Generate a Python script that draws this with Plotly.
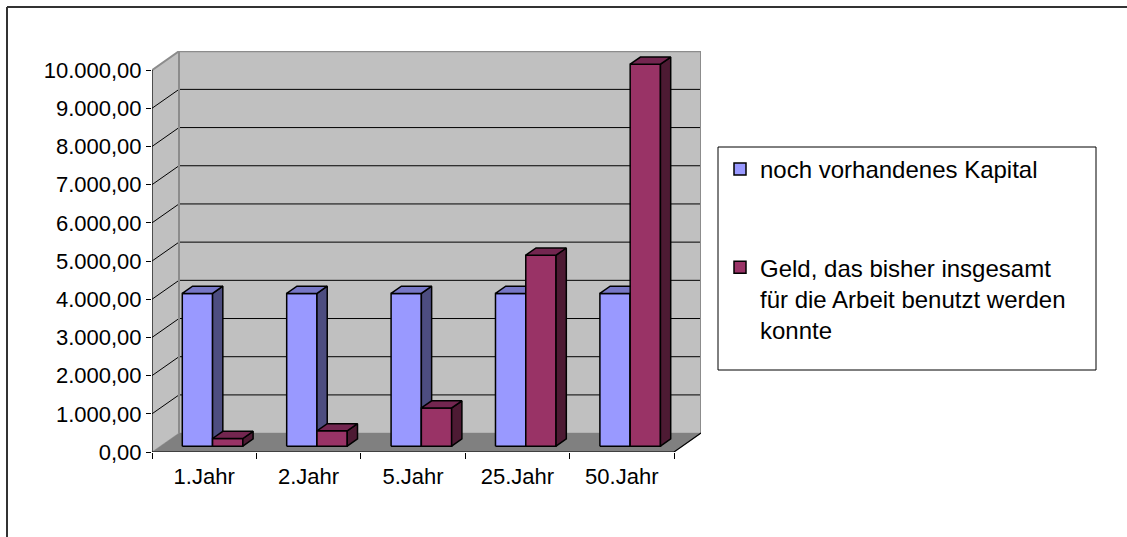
import plotly.graph_objects as go

# ---------------- data ----------------
categories = ["1.Jahr", "2.Jahr", "5.Jahr", "25.Jahr", "50.Jahr"]
kapital = [4000, 4000, 4000, 4000, 4000]
geld = [200, 400, 1000, 5000, 10000]
series_names = [
    "noch vorhandenes Kapital",
    "Geld, das bisher insgesamt<br>für die Arbeit benutzt werden<br>konnte",
]
y_tickvals = [0, 1000, 2000, 3000, 4000, 5000, 6000, 7000, 8000, 9000, 10000]
y_ticktext = ["0,00", "1.000,00", "2.000,00", "3.000,00", "4.000,00", "5.000,00",
              "6.000,00", "7.000,00", "8.000,00", "9.000,00", "10.000,00"]

# ---------------- styles / 3D geometry ----------------
FONT = "Arial, 'Liberation Sans', sans-serif"
DX = 0.2586      # depth offset in category units
DY = 495         # depth offset in value units
F0, F1 = 0.31, 0.69   # bar depth (front/back fraction)
BW = 0.29        # bar width in category units
GAP = (1 - 2 * BW) / 2
NC = len(categories)
YMAX = 10000

colors = [
    dict(front="#9999FF", side="#4D4D80", top="#7777C6"),
    dict(front="#993366", side="#4D1A33", top="#732650"),
]

fig = go.Figure()


def poly(xs, ys, fill, line="black", width=1.5):
    fig.add_trace(go.Scatter(
        x=list(xs) + [xs[0]], y=list(ys) + [ys[0]], mode="lines",
        fill="toself", fillcolor=fill, line=dict(color=line, width=width),
        hoverinfo="skip", showlegend=False))


def seg(xs, ys, color="black", width=1):
    fig.add_trace(go.Scatter(x=xs, y=ys, mode="lines",
                             line=dict(color=color, width=width),
                             hoverinfo="skip", showlegend=False))


# walls and floor
poly([0, DX, DX, 0], [0, DY, YMAX + DY, YMAX], "#C0C0C0", line="#C0C0C0", width=0.5)
poly([DX, NC + DX, NC + DX, DX], [DY, DY, YMAX + DY, YMAX + DY], "#C0C0C0",
     line="#C0C0C0", width=0.5)
poly([0, NC, NC + DX, DX], [0, 0, DY, DY], "#808080", line="#808080", width=0.5)

# gridlines on walls
for v in y_tickvals[1:-1]:
    seg([0, DX, NC + DX], [v, v + DY, v + DY], "black", 1)

# wall borders
seg([0, DX, NC + DX, NC + DX], [YMAX, YMAX + DY, YMAX + DY, DY], "#8C8C8C", 2)
seg([DX, DX], [DY, YMAX + DY], "#8C8C8C", 2)

# bars
for i in range(NC):
    for s, vals in enumerate([kapital, geld]):
        v = vals[i]
        x0 = i + GAP + s * BW + F0 * DX
        x1 = x0 + BW
        y0 = F0 * DY
        y1 = y0 + v
        ddx = (F1 - F0) * DX
        ddy = (F1 - F0) * DY
        c = colors[s]
        poly([x0, x1, x1, x0], [y0, y0, y1, y1], c["front"])
        poly([x1, x1 + ddx, x1 + ddx, x1], [y0, y0 + ddy, y1 + ddy, y1], c["side"])
        poly([x0, x1, x1 + ddx, x0 + ddx], [y1, y1, y1 + ddy, y1 + ddy], c["top"])

# front axes
seg([0, 0], [0, YMAX], "black", 1.2)
seg([0, NC, NC + DX], [0, 0, DY], "black", 1.2)

# legend entries
for s, name in enumerate(series_names):
    fig.add_trace(go.Scatter(
        x=[None], y=[None], mode="markers", name=name, legendgroup=f"g{s}",
        marker=dict(symbol="square", size=12, color=colors[s]["front"],
                    line=dict(color="black", width=1.5))))

L, T, B = 152, 51, 85
PW, PH = 1127 - L - 426, 537 - T - B


def px(x):
    return (x - L) / PW


def py(y):
    return (537 - B - y) / PH


fig.update_layout(
    width=1127, height=537,
    margin=dict(l=L, r=426, t=T, b=B, pad=0),
    paper_bgcolor="white", plot_bgcolor="white",
    font=dict(family=FONT, size=22, color="black"),
    showlegend=True,
    legend=dict(x=px(720), y=py(147), xanchor="left", yanchor="top",
                bgcolor="rgba(0,0,0,0)", borderwidth=0,
                font=dict(family=FONT, size=24, color="black"),
                traceorder="grouped", tracegroupgap=64, valign="top"),
    xaxis=dict(range=[0, NC + DX], showgrid=False, zeroline=False, showline=False,
               tickmode="array", tickvals=[i + 0.5 for i in range(NC)],
               ticktext=categories, ticks="outside", ticklen=5,
               tickcolor="rgba(0,0,0,0)",
               minor=dict(ticks="outside", tick0=0, dtick=1, ticklen=6,
                          tickcolor="black", tickwidth=1),
               fixedrange=True),
    yaxis=dict(range=[0, YMAX + DY + 5], showgrid=False, zeroline=False,
               showline=False, tickmode="array", tickvals=y_tickvals,
               ticktext=y_ticktext, ticks="outside", ticklen=5,
               tickcolor="black", tickwidth=1, fixedrange=True),
    shapes=[
        dict(type="rect", xref="paper", yref="paper",
             x0=px(718), x1=px(1096), y0=py(370), y1=py(147),
             line=dict(color="black", width=1), fillcolor="rgba(0,0,0,0)"),
        dict(type="line", xref="paper", yref="paper",
             x0=px(7), x1=px(1127), y0=py(7), y1=py(7),
             line=dict(color="#333333", width=2)),
        dict(type="line", xref="paper", yref="paper",
             x0=px(7), x1=px(7), y0=py(7), y1=py(537),
             line=dict(color="#333333", width=2)),
    ],
)

fig.write_html(
    "out.html", config={"displayModeBar": False},
    post_script=("document.body.style.margin='0';"
                 "document.body.style.overflow='hidden';"
                 "document.documentElement.style.overflow='hidden';"))
